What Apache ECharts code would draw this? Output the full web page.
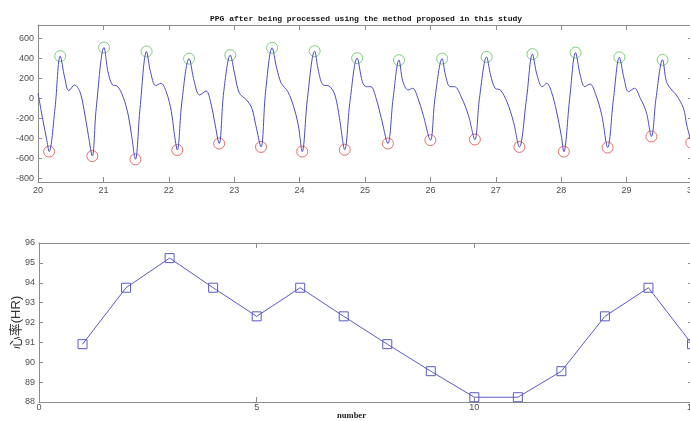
<!DOCTYPE html>
<html>
<head>
<meta charset="utf-8">
<script src="https://cdn.jsdelivr.net/npm/echarts@6/dist/echarts.min.js"></script>
<style>
  html, body { margin: 0; padding: 0; background: #fff; }
  #chart { width: 690px; height: 421px; }
</style>
</head>
<body>
<div id="chart"></div>
<script>
// PPG waveform (time in s, amplitude)
const ppgTime = [
  20.00, 20.08, 20.13, 20.17, 20.26, 20.34, 20.41, 20.47, 20.56, 20.64, 20.70, 20.77,
  20.83, 20.89, 21.01, 21.07, 21.14, 21.21, 21.30, 21.38, 21.43,
  21.49, 21.56, 21.66, 21.72, 21.80, 21.88, 21.96, 22.04, 22.08,
  22.13, 22.20, 22.31, 22.39, 22.47, 22.57, 22.65, 22.70,
  22.77, 22.84, 22.94, 23.01, 23.08, 23.19, 23.27, 23.33,
  23.41, 23.48, 23.58, 23.65, 23.72, 23.82, 23.91, 23.98,
  24.04, 24.12, 24.23, 24.29, 24.36, 24.45, 24.54, 24.61,
  24.69, 24.77, 24.88, 24.96, 25.02, 25.09, 25.17, 25.25,
  25.35, 25.43, 25.52, 25.58, 25.66, 25.73, 25.81, 25.89,
  26.00, 26.07, 26.18, 26.23, 26.30, 26.37, 26.47, 26.58,
  26.68, 26.75, 26.86, 26.92, 26.99, 27.07, 27.17, 27.27,
  27.36, 27.47, 27.56, 27.63, 27.71, 27.78, 27.85, 27.93, 28.00,
  28.04, 28.13, 28.22, 28.29, 28.36, 28.44, 28.53, 28.62,
  28.71, 28.80, 28.89, 28.96, 29.03, 29.12, 29.21, 29.30,
  29.38, 29.45, 29.55, 29.61, 29.69, 29.76, 29.87, 29.92, 29.99
];
const ppgValue = [
  50, -234, -400, -530, -100, 420, 200, 76, 133, 66, -100, -367,
  -575, -100, 506, 266, 133, 123, 16, -167, -367,
  -607, -100, 466, 266, 126, 150, 66, -134, -334,
  -515, -34, 395, 166, 33, 73, -67, -234,
  -450, 66, 430, 233, 50, -17, -100, -267,
  -484, 66, 503, 300, 150, 66, -84, -267,
  -530, 0, 470, 266, 133, 123, 33, -200,
  -512, -34, 400, 166, 116, 116, 0, -200,
  -450, 0, 380, 166, 83, 100, 0, -167,
  -417, 0, 395, 233, 116, 116, 16, -167,
  -410, 0, 412, 233, 100, 83, -34, -234,
  -484, 0, 440, 233, 116, 150, 66, -134, -367,
  -530, 0, 455, 233, 116, 143, 33, -167,
  -490, 0, 408, 200, 66, 100, 0, -134,
  -380, 0, 383, 166, 83, 33, -100, -267, -440
];

// detected peaks (green) and troughs (red)
const peakTime = [20.34, 21.01, 21.66, 22.31, 22.94, 23.58, 24.23, 24.88, 25.52, 26.18, 26.86, 27.56, 28.22, 28.89, 29.55];
const peakValue = [420, 506, 466, 395, 430, 503, 470, 400, 380, 395, 412, 440, 455, 408, 383];
const troughTime = [20.17, 20.83, 21.49, 22.13, 22.77, 23.41, 24.04, 24.69, 25.35, 26.00, 26.68, 27.36, 28.04, 28.71, 29.38, 29.99];
const troughValue = [-530, -575, -607, -515, -450, -484, -530, -512, -450, -417, -410, -484, -530, -490, -380, -440];

// heart rate per beat
const hrNumber = [1, 2, 3, 4, 5, 6, 7, 8, 9, 10, 11, 12, 13, 14, 15];
const hrValue = [90.91, 93.75, 95.24, 93.75, 92.31, 93.75, 92.31, 90.91, 89.55, 88.24, 88.24, 89.55, 92.31, 93.75, 90.91];

const ppgTicks = [-800, -600, -400, -200, 0, 200, 400, 600];

const zip = (a, b) => a.map((v, i) => [v, b[i]]);

const frame = '#8c8c8c';
const labelStyle = { color: '#4d4d4d', fontSize: 9, fontFamily: 'Liberation Sans', margin: 4 };
const lineBlue = '#4b4bc4';
const line = { onZero: false, lineStyle: { color: frame } };
const tick = { show: true, inside: true, length: 5, lineStyle: { color: frame } };

let myChart = echarts.init(document.getElementById('chart'));
myChart.setOption({
  animation: false,
  title: {
    text: 'PPG after being processed using the method proposed in this study',
    left: 205,
    top: 10,
    textStyle: { fontFamily: 'Liberation Mono', fontWeight: 'bold', fontSize: 8, color: '#111' }
  },
  grid: [
    { left: 38, top: 25, right: -2, bottom: 239, outerBoundsMode: 'none', containLabel: false },
    { left: 39, top: 243, right: -2, bottom: 19, outerBoundsMode: 'none', containLabel: false }
  ],
  xAxis: [
    {
      gridIndex: 0, type: 'value', min: 20, max: 30, interval: 1,
      axisLine: line, axisTick: tick, axisLabel: labelStyle,
      splitLine: { show: false }
    },
    {
      gridIndex: 0, type: 'value', position: 'top', min: 20, max: 30, interval: 1,
      axisLine: line, axisTick: tick, axisLabel: { show: false },
      splitLine: { show: false }
    },
    {
      gridIndex: 1, type: 'value', min: 0, max: 15, interval: 5,
      name: 'number', nameLocation: 'middle', nameGap: 9, nameMoveOverlap: false,
      nameTextStyle: { fontFamily: 'Liberation Serif', fontWeight: 'bold', fontSize: 8.5, color: '#222', padding: [0, 28, 0, 0] },
      axisLine: line, axisTick: tick,
      axisLabel: Object.assign({}, labelStyle, { margin: 1 }),
      splitLine: { show: false }
    },
    {
      gridIndex: 1, type: 'value', position: 'top', min: 0, max: 15, interval: 5,
      axisLine: line, axisTick: tick, axisLabel: { show: false },
      splitLine: { show: false }
    }
  ],
  yAxis: [
    {
      gridIndex: 0, type: 'value', min: -833, max: 730,
      axisLine: Object.assign({ show: true }, line),
      axisTick: Object.assign({ customValues: ppgTicks }, tick, { length: 4 }),
      axisLabel: Object.assign({ customValues: ppgTicks }, labelStyle),
      splitLine: { show: false }
    },
    {
      gridIndex: 0, type: 'value', position: 'right', min: -833, max: 730,
      axisLine: Object.assign({ show: true }, line),
      axisTick: Object.assign({ customValues: ppgTicks }, tick, { length: 4 }),
      axisLabel: { show: false },
      splitLine: { show: false }
    },
    {
      gridIndex: 1, type: 'value', min: 88, max: 96, interval: 1,
      name: '心率(HR)', nameLocation: 'middle', nameGap: 16, nameMoveOverlap: false,
      nameTextStyle: { fontFamily: 'Liberation Sans, Noto Sans CJK SC', fontSize: 13, color: '#333' },
      axisLine: Object.assign({ show: true }, line),
      axisTick: Object.assign({}, tick, { length: 4 }),
      axisLabel: labelStyle,
      splitLine: { show: false }
    },
    {
      gridIndex: 1, type: 'value', position: 'right', min: 88, max: 96, interval: 1,
      axisLine: Object.assign({ show: true }, line),
      axisTick: Object.assign({}, tick, { length: 4 }),
      axisLabel: { show: false },
      splitLine: { show: false }
    }
  ],
  series: [
    {
      name: 'PPG', type: 'line', xAxisIndex: 0, yAxisIndex: 0,
      data: zip(ppgTime, ppgValue),
      smooth: 0.35, showSymbol: false,
      lineStyle: { color: lineBlue, width: 1 }
    },
    {
      name: 'Peaks', type: 'scatter', xAxisIndex: 0, yAxisIndex: 0,
      data: zip(peakTime, peakValue),
      symbol: 'circle', symbolSize: 11,
      itemStyle: { color: 'transparent', borderColor: '#5cc45c', borderWidth: 1 }
    },
    {
      name: 'Troughs', type: 'scatter', xAxisIndex: 0, yAxisIndex: 0,
      data: zip(troughTime, troughValue),
      symbol: 'circle', symbolSize: 11,
      itemStyle: { color: 'transparent', borderColor: '#dc4b4b', borderWidth: 1 }
    },
    {
      name: 'HR', type: 'line', xAxisIndex: 2, yAxisIndex: 2,
      data: zip(hrNumber, hrValue),
      symbol: 'rect', symbolSize: 9, showAllSymbol: true,
      lineStyle: { color: '#5a5ac8', width: 1 },
      itemStyle: { color: 'transparent', borderColor: '#5a5ac8', borderWidth: 1 }
    }
  ]
});
</script>
</body>
</html>
